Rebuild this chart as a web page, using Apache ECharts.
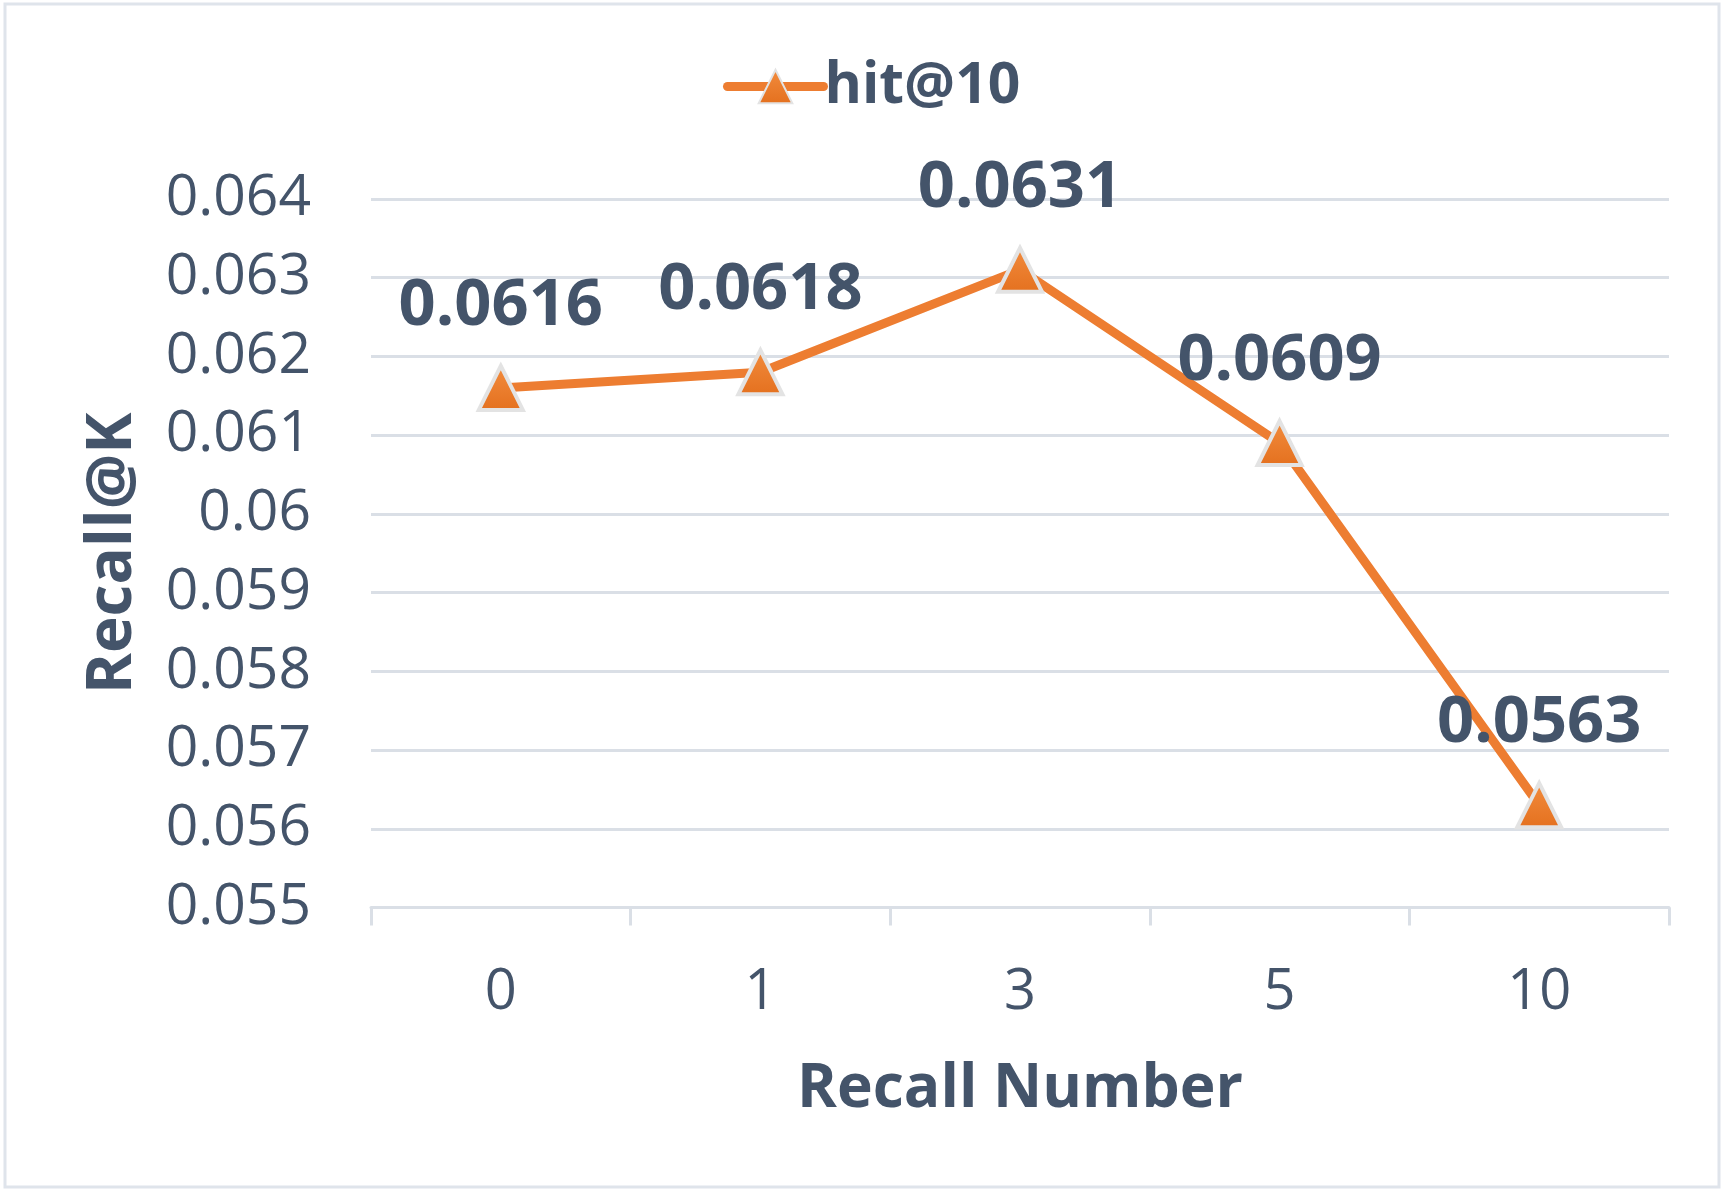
<!DOCTYPE html>
<html><head><meta charset="utf-8">
<script src="https://cdn.jsdelivr.net/npm/echarts@6/dist/echarts.min.js"></script>
<style>html,body{margin:0;padding:0;background:#fff}#c{width:1727px;height:1196px}</style>
</head><body><div id="c"></div>
<script>
const categories = ['0', '1', '3', '5', '10'];
const hit10 = [0.0616, 0.0618, 0.0631, 0.0609, 0.0563];
const seriesName = 'hit@10';
const yMin = 0.055, yMax = 0.064, yStep = 0.001;

const textColor = '#44546a';
const font = 'Open Sans';
const chart = echarts.init(document.getElementById('c'), null, {renderer: 'canvas'});
chart.setOption({
  animation: false,
  backgroundColor: '#fff',
  graphic: [{type: 'rect', shape: {x: 5, y: 4, width: 1714, height: 1183}, style: {fill: 'none', stroke: '#dfe4eb', lineWidth: 3}, silent: true}],
  legend: {
    top: 53, left: 718,
    itemWidth: 96, itemHeight: 42, itemGap: 8,
    lineStyle: {width: 9, cap: 'round'},
    textStyle: {color: textColor, fontFamily: font, fontWeight: 'bold', fontSize: 57, padding: [0, 0, 0, -4]},
    data: [seriesName]
  },
  grid: {left: 371, right: 58, top: 199, bottom: 288.5, containLabel: false},
  xAxis: {
    type: 'category', data: categories, boundaryGap: true,
    name: 'Recall Number', nameLocation: 'middle', nameGap: 152,
    nameTextStyle: {color: textColor, fontFamily: font, fontWeight: 'bold', fontSize: 60.5},
    axisLine: {lineStyle: {color: '#dadfe6', width: 3}},
    axisTick: {show: true, length: 18, lineStyle: {color: '#dadfe6', width: 3}},
    axisLabel: {color: textColor, fontFamily: font, fontSize: 56, margin: 58}
  },
  yAxis: {
    type: 'value', min: yMin, max: yMax, interval: yStep,
    name: 'Recall@K', nameLocation: 'middle', nameGap: 227,
    nameTextStyle: {color: textColor, fontFamily: font, fontWeight: 'bold', fontSize: 62},
    axisLine: {show: false}, axisTick: {show: false},
    splitLine: {lineStyle: {color: '#dadfe6', width: 3}},
    axisLabel: {color: textColor, fontFamily: font, fontSize: 57, margin: 60,
      formatter: v => String(parseFloat(v.toFixed(3)))}
  },
  series: [{
    name: seriesName, type: 'line', data: hit10,
    symbol: 'triangle', symbolSize: 44,
    lineStyle: {color: '#ed7d31', width: 9},
    itemStyle: {color: new echarts.graphic.LinearGradient(0, 0, 0, 1, [{offset: 0, color: '#f28c3e'}, {offset: 1, color: '#e4701e'}]), borderColor: '#e3e3e3', borderWidth: 4},
    label: {show: true, position: 'top', distance: 25, color: textColor, fontFamily: font, fontWeight: 'bold', fontSize: 65,
      formatter: p => p.value.toFixed(4)}
  }]
});
</script></body></html>
